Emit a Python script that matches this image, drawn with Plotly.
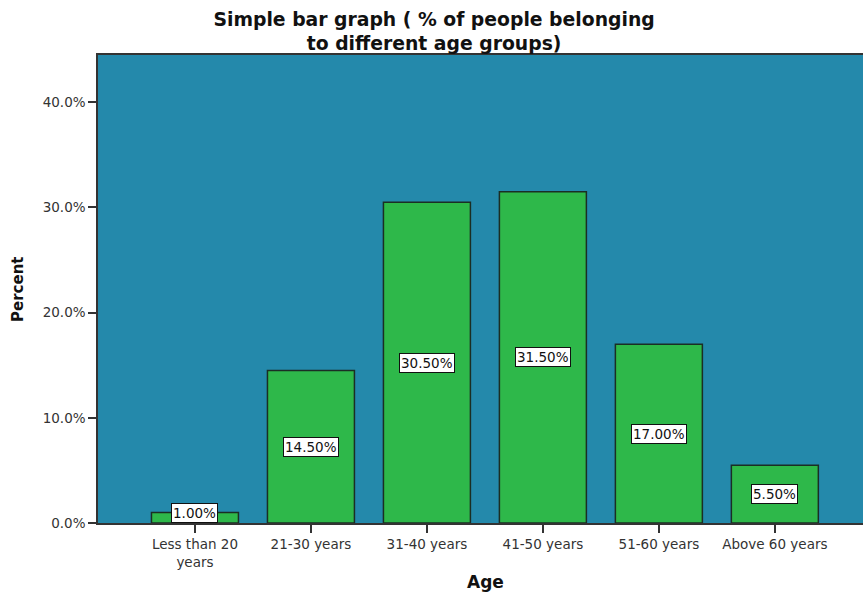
import plotly.graph_objects as go

# Age-group distribution (percent of respondents)
categories = ["Less than 20<br>years", "21-30 years", "31-40 years",
              "41-50 years", "51-60 years", "Above 60 years"]
percent = [1.00, 14.50, 30.50, 31.50, 17.00, 5.50]
y_ticks = [0, 10, 20, 30, 40]
y_tick_labels = ["0.0%", "10.0%", "20.0%", "30.0%", "40.0%"]

PLOT_BG = "#2489AB"
BAR_GREEN = "#2EB84A"
FONT = "DejaVu Sans, Arial, sans-serif"

fig = go.Figure()
fig.add_trace(go.Bar(
    x=list(range(len(categories))),
    y=percent,
    width=0.75,
    marker=dict(color=BAR_GREEN, line=dict(color="#1B2E24", width=1.5)),
    hoverinfo="skip",
))

# Value labels in white boxes at mid-height of each bar
for i, v in enumerate(percent):
    small = v / 2 < 1.0
    fig.add_annotation(
        x=i, y=0 if small else v / 2,
        yanchor="bottom" if small else "middle",
        text=f"{v:.2f}%", showarrow=False,
        font=dict(family=FONT, size=13.5, color="#111111"),
        bgcolor="white", bordercolor="#111111", borderwidth=1, borderpad=1,
    )

# Axis titles
fig.add_annotation(
    xref="paper", yref="paper", x=0.506, y=0, yshift=-59,
    xanchor="center", yanchor="middle", showarrow=False,
    text="<b>Age</b>", font=dict(family=FONT, size=17, color="#111111"),
)
fig.add_annotation(
    xref="paper", yref="paper", x=-0.1046, y=0.5,
    xanchor="center", yanchor="middle", showarrow=False, textangle=-90,
    text="<b>Percent</b>", font=dict(family=FONT, size=15, color="#111111"),
)

fig.update_layout(
    width=863, height=595,
    margin=dict(l=98, r=0, t=55, b=72, autoexpand=False),
    paper_bgcolor="white",
    plot_bgcolor=PLOT_BG,
    showlegend=False,
    font=dict(family=FONT, color="#333333"),
    title=dict(
        text="<b>Simple bar graph ( % of people belonging<br>to different age groups)</b>",
        x=0.503, xanchor="center", y=0.957, yanchor="middle",
        font=dict(family=FONT, size=18.8, color="#111111"),
    ),
)

fig.update_xaxes(
    range=[-0.836, 5.76], automargin=False,
    tickmode="array", tickvals=list(range(len(categories))), ticktext=categories,
    ticks="outside", ticklen=8, tickcolor="#333333", tickwidth=1.5,
    tickfont=dict(family=FONT, size=13.5, color="#333333"),
    showline=True, linecolor="#333333", linewidth=1.5, mirror=True,
    showgrid=False, zeroline=False,
)
fig.update_yaxes(
    range=[0, 44.5], automargin=False,
    tickmode="array", tickvals=y_ticks, ticktext=y_tick_labels,
    ticks="outside", ticklen=8, tickcolor="#333333", tickwidth=1.5,
    tickfont=dict(family=FONT, size=13.5, color="#333333"),
    showline=True, linecolor="#333333", linewidth=1.5, mirror=True,
    showgrid=False, zeroline=False,
)

fig.write_html("out.html")
